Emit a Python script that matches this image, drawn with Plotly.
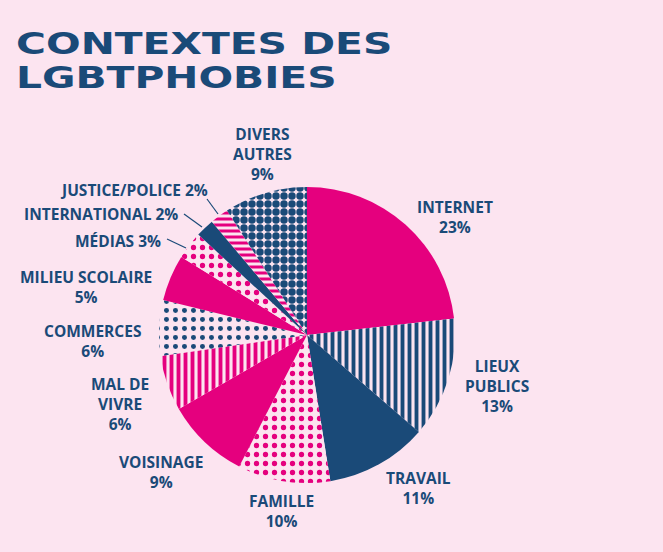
import plotly.graph_objects as go

W, H = 663, 552
NAVY = "#1a4a78"
PINK = "#e5007e"
BG = "#fce4f0"

# slices, clockwise from 12 o'clock
categories = [
    "INTERNET", "LIEUX PUBLICS", "TRAVAIL", "FAMILLE", "VOISINAGE",
    "MAL DE VIVRE", "COMMERCES", "MILIEU SCOLAIRE", "MÉDIAS",
    "INTERNATIONAL", "JUSTICE/POLICE", "DIVERS AUTRES",
]
values = [23, 13, 11, 10, 9, 6, 6, 5, 3, 2, 2, 9]
# how each label is broken into lines (the % goes last)
label_lines = [
    ["INTERNET"], ["LIEUX", "PUBLICS"], ["TRAVAIL"], ["FAMILLE"], ["VOISINAGE"],
    ["MAL DE", "VIVRE"], ["COMMERCES"], ["MILIEU SCOLAIRE"], ["MÉDIAS"],
    ["INTERNATIONAL"], ["JUSTICE/POLICE"], ["DIVERS", "AUTRES"],
]
pct_inline = [False] * 8 + [True, True, True, False]

# looks of each slice
colors = [PINK, NAVY, NAVY, PINK, PINK, PINK, NAVY, PINK, PINK, NAVY, PINK, NAVY]
shapes = ["", "|", "", ".", "", "|", ".", "", ".", "", "-", "."]
sizes = [8, 7, 8, 9, 8, 7, 9, 8, 9, 8, 6, 8]
solidity = [0.3, 0.55, 0.3, 0.27, 0.3, 0.55, 0.24, 0.3, 0.27, 0.3, 0.5, 0.68]


def px(x):
    return x / W


def py(y):
    return 1 - y / H


# pie centre (307, 335), radius 148 in pixels
fig = go.Figure(go.Pie(
    labels=categories,
    values=values,
    sort=False,
    direction="clockwise",
    rotation=0,
    textinfo="none",
    hoverinfo="label+percent",
    showlegend=False,
    domain=dict(x=[px(159), px(455)], y=[py(483), py(187)]),
    marker=dict(
        colors=colors,
        line=dict(width=0),
        pattern=dict(
            shape=shapes,
            fgcolor=colors,
            bgcolor=BG,
            size=sizes,
            solidity=solidity,
            fillmode="replace",
        ),
    ),
))

# label block centre in pixels and anchor
label_pos = [
    (455, 217, "center"), (497, 386, "center"), (418, 488, "center"),
    (281, 511, "center"), (161, 472, "center"), (120, 404, "center"),
    (92, 341, "center"), (86, 287, "center"), (163, 241, "right"),
    (180, 214, "right"), (210, 190, "right"), (262, 154, "center"),
]

annotations = []
for lines, inline, v, (x, y, anchor) in zip(label_lines, pct_inline, values, label_pos):
    if inline:
        text = f"{lines[0]} {v}%"
    else:
        text = "<br>".join(lines + [f"{v}%"])
    annotations.append(dict(
        text=text, x=px(x), y=py(y),
        xref="paper", yref="paper",
        xanchor=anchor, yanchor="middle", align="center", showarrow=False,
        font=dict(family="Open Sans", size=15.5, color=NAVY, weight=700),
    ))

for line_text, y in [("CONTEXTES DES", 43), ("LGBTPHOBIES", 78)]:
    annotations.append(dict(
        text=line_text, x=px(14), y=py(y), xref="paper", yref="paper",
        xanchor="left", yanchor="middle", showarrow=False,
        font=dict(family="DejaVu Sans", size=30, color=NAVY, weight=700),
    ))

leaders = [((167, 239), (186, 248)), ((184, 214), (202, 227)), ((207, 199), (218, 214))]
line_shapes = [
    dict(type="line", xref="paper", yref="paper",
         x0=px(a[0]), y0=py(a[1]), x1=px(b[0]), y1=py(b[1]),
         line=dict(color=NAVY, width=1.2))
    for a, b in leaders
]

fig.update_layout(
    width=W, height=H,
    margin=dict(l=0, r=0, t=0, b=0),
    paper_bgcolor=BG, plot_bgcolor=BG,
    annotations=annotations,
    shapes=line_shapes,
)

# no page margin; the title face is an extended grotesque, so widen it
post = """
document.body.style.margin = '0';
document.body.style.background = '#fce4f0';
var gd = document.getElementById('{plot_id}');
function widenTitle() {
  gd.querySelectorAll('text.annotation-text').forEach(function (t) {
    if (t.textContent === 'CONTEXTES DES' || t.textContent === 'LGBTPHOBIES') {
      t.removeAttribute('transform');
      var b = t.getBBox();
      t.setAttribute('transform',
        'translate(' + b.x + ',0) scale(1.36,1) translate(' + (-b.x) + ',0)');
    }
  });
}
widenTitle();
gd.on('plotly_afterplot', widenTitle);
"""

fig.write_html("out.html", post_script=post, config={"displayModeBar": False})
